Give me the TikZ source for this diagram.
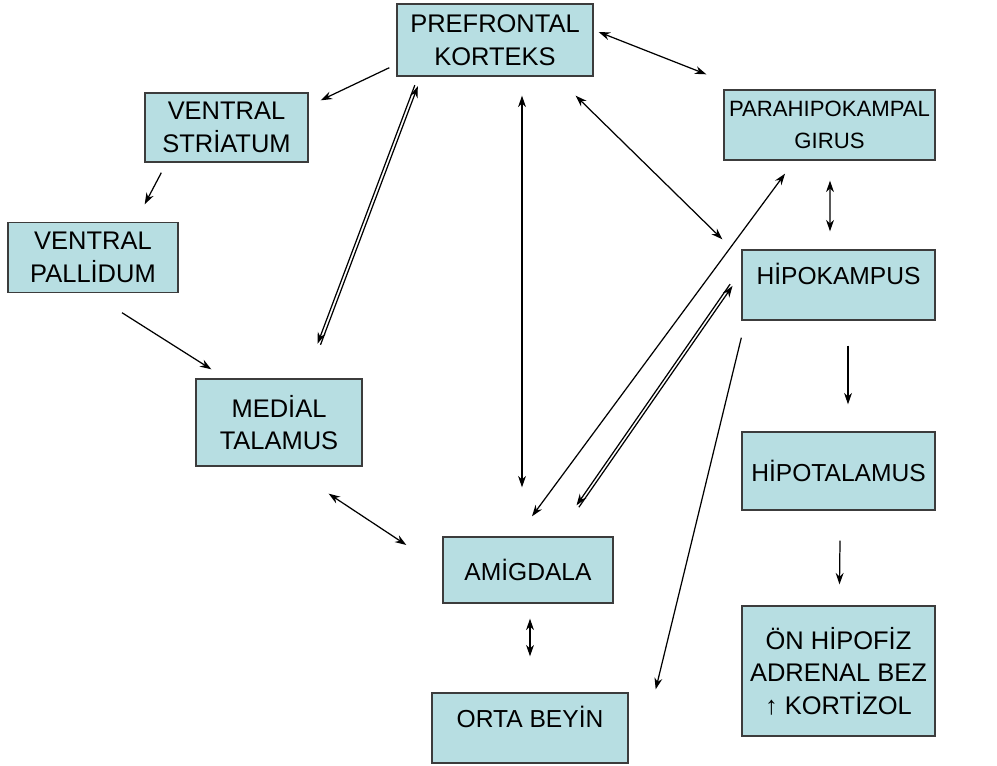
\documentclass[tikz,border=0pt]{standalone}
\usepackage{fontspec}
\setmainfont{Liberation Sans}
\usetikzlibrary{arrows.meta,calc}

\definecolor{boxfill}{RGB}{183,222,226}
\definecolor{boxline}{RGB}{60,60,60}
\newcommand\boxfont{\fontsize{14.5}{18.5}\selectfont}
\newcommand\boxfontsm{\fontsize{14}{18}\selectfont}
\newcommand\boxfontph{\fontsize{12.6}{18}\selectfont}

\begin{document}
\begin{tikzpicture}[x=0.02cm,y=-0.02cm,>={Stealth[length=6.5pt,width=4.5pt]},
  box/.style={draw=boxline,fill=boxfill,line width=0.8pt,align=center,inner sep=0pt,font=\boxfont},
  boxsm/.style={box,font=\boxfontsm},
  link/.style={line width=0.7pt}]
  \useasboundingbox (0,0) rectangle (997,765);

  \node[box,minimum width=3.92cm,minimum height=1.44cm] (pf)  at (495,40)    {PREFRONTAL\\KORTEKS};
  \node[box,minimum width=3.26cm,minimum height=1.38cm] (vs)  at (226.5,127.5) {VENTRAL\\STRİATUM};
  \node[box,font=\boxfontph,minimum width=4.22cm,minimum height=1.40cm] (ph)  at (829.5,125) {PARAHIPOKAMPAL\\GIRUS};
  \node[box,minimum width=3.40cm,minimum height=1.40cm] (vp)  at (93,257.5)  {VENTRAL\\PALLİDUM};
  \node[boxsm,minimum width=3.86cm,minimum height=1.40cm,text depth=0.45cm] (hip) at (838.5,285) {HİPOKAMPUS};
  \node[box,minimum width=3.32cm,minimum height=1.74cm] (mt)  at (279,422.5) {MEDİAL\\TALAMUS};
  \node[boxsm,minimum width=3.86cm,minimum height=1.56cm] (hpt) at (838.5,471) {HİPOTALAMUS};
  \node[boxsm,minimum width=3.40cm,minimum height=1.32cm] (amg) at (528,570)   {AMİGDALA};
  \node[box,minimum width=3.86cm,minimum height=2.60cm] (ohf) at (838.5,671) {ÖN HİPOFİZ\\ADRENAL BEZ\\↑ KORTİZOL};
  \node[boxsm,minimum width=3.92cm,minimum height=1.40cm,text depth=0.45cm] (ob) at (530,728) {ORTA BEYİN};

  % left chain
  \draw[link,->] ($(pf.south west)+(-7,-9)$) -- ($(vs.north east)+(12,8)$);
  \draw[link,->] ($(vs.south west)+(17,10)$) -- ($(vp.north east)+(-34,-17.5)$);
  \draw[link,->] ($(vp.south)+(29,19.5)$) -- ($(mt.north west)+(16,-9)$);
  % talamus <-> korteks (two lines)
  \draw[link,->] ($(mt.north)+(41.5,-33.5)$) -- ($(pf.south west)+(21.5,9.5)$);
  \draw[link,->] ($(pf.south west)+(18.5,8.5)$) -- ($(mt.north)+(38.5,-34.5)$);
  \draw[link,<->] ($(mt.south east)+(-34,27)$) -- ($(amg.west)+(-36,-25)$);

  % korteks
  \draw[link,<->] ($(pf.south)+(27,19)$) -- ($(amg.north)+(-6,-49)$);
  \draw[link,<->] ($(pf.south east)+(-18,19)$) -- ($(hip.north west)+(-19,-10)$);
  \draw[link,<->] ($(pf.east)+(5,-8)$) -- ($(ph.north west)+(-17,-15)$);

  % hipokampal
  \draw[link,<->] ($(ph.south)+(0.5,20)$) -- ($(hip.north)+(-8.5,-18)$);
  \draw[link,<->] ($(amg.north)+(4,-20)$) -- ($(ph.south)+(-44.5,13)$);
  \draw[link,->] ($(amg.north east)+(-34.8,-29.1)$) -- ($(hip.west)+(-8.8,0.9)$);
  \draw[link,->] ($(hip.west)+(-11.2,-0.9)$) -- ($(amg.north east)+(-37.2,-30.9)$);
  \draw[link,->] ($(hip.south west)+(0,17)$) -- ($(ob.north east)+(27,-3)$);
  \draw[link,<->] ($(amg.south)+(2,15)$) -- ($(ob.north)+(0,-36)$);

  % right column
  \draw[link,->] ($(hip.south)+(9.5,25)$) -- ($(hpt.north)+(9.5,-27)$);
  \draw[link,->] ($(hpt.south)+(1.5,30)$) -- ($(ohf.north)+(1,-21)$);
\end{tikzpicture}
\end{document}
